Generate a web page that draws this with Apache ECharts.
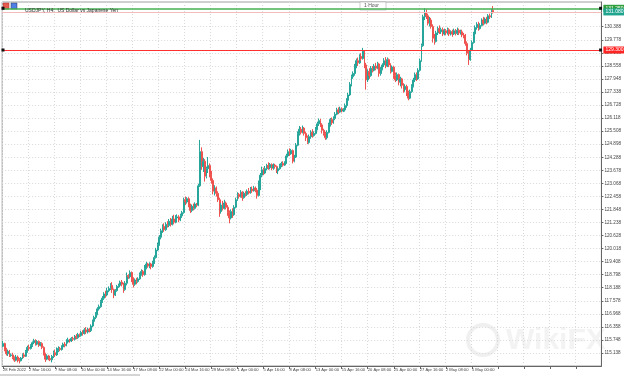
<!DOCTYPE html>
<html><head><meta charset="utf-8">
<script src="https://cdn.jsdelivr.net/npm/echarts@6/dist/echarts.min.js"></script>
<style>html,body{margin:0;padding:0;background:#fff}#c{width:624px;height:377px}</style>
</head><body><div id="c"></div>
<script>
const chartTitle = 'USDJPY, H4:  US Dollar vs Japanese Yen';
const xTickLabels = ['28 Feb 2022','2 Mar 16:00','7 Mar 08:00','10 Mar 00:00','14 Mar 16:00','17 Mar 08:00','22 Mar 00:00','24 Mar 16:00','29 Mar 08:00','1 Apr 00:00','5 Apr 16:00','8 Apr 08:00','13 Apr 00:00','15 Apr 16:00','20 Apr 08:00','25 Apr 00:00','27 Apr 16:00','2 May 08:00','5 May 00:00'];
const yTicks = [115.138,115.748,116.358,116.968,117.578,118.188,118.798,119.408,120.018,120.628,121.238,121.848,122.458,123.068,123.678,124.288,124.898,125.508,126.118,126.728,127.338,127.948,128.558,129.168,129.778,130.388];
const levelGreen = 131.25;
const levelBid = 131.08;
const levelRed = 129.30;
// H4 candles: [open, close, low, high]
const candles = [
[115.45,115.58,115.40,115.70],[115.58,115.30,115.22,115.62],[115.30,115.10,115.02,115.38],[115.10,115.22,115.00,115.30],[115.22,115.02,114.95,115.28],[115.02,115.05,114.96,115.12],
[115.05,114.92,114.85,115.15],[114.92,114.80,114.72,114.98],[114.80,114.95,114.75,115.05],[114.95,114.82,114.70,115.02],[114.82,114.78,114.65,114.90],[114.78,114.90,114.74,114.95],
[114.90,115.05,114.85,115.12],[115.05,114.98,114.90,115.15],[114.98,115.20,114.95,115.28],[115.20,115.40,115.15,115.48],[115.40,115.35,115.25,115.52],[115.35,115.48,115.30,115.55],
[115.48,115.62,115.42,115.68],[115.62,115.72,115.55,115.80],[115.72,115.55,115.48,115.78],[115.55,115.68,115.50,115.74],[115.68,115.50,115.42,115.72],[115.50,115.58,115.45,115.65],
[115.58,115.40,115.32,115.64],[115.40,115.10,115.02,115.45],[115.10,114.85,114.72,115.15],[114.85,115.00,114.80,115.08],[115.00,114.88,114.80,115.05],[114.88,114.82,114.76,114.95],
[114.82,114.98,114.70,115.05],[114.98,115.15,114.90,115.25],[115.15,115.05,114.95,115.30],[115.05,115.25,115.00,115.40],[115.25,115.35,115.18,115.45],[115.35,115.30,115.22,115.42],
[115.30,115.42,115.25,115.50],[115.42,115.55,115.35,115.62],[115.55,115.48,115.40,115.65],[115.48,115.65,115.45,115.78],[115.65,115.75,115.58,115.85],[115.75,115.70,115.62,115.80],
[115.70,115.82,115.65,115.88],[115.82,115.78,115.70,115.90],[115.78,115.92,115.72,115.98],[115.92,115.85,115.78,116.02],[115.85,116.00,115.80,116.08],[116.00,115.95,115.88,116.05],
[115.95,116.10,115.90,116.18],[116.10,116.05,115.95,116.20],[116.05,116.22,116.00,116.30],[116.22,116.12,116.02,116.35],[116.12,116.25,116.05,116.32],[116.25,116.18,116.10,116.30],
[116.18,116.40,116.12,116.48],[116.40,116.62,116.35,116.70],[116.62,116.80,116.55,116.88],[116.80,116.95,116.72,117.05],[116.95,117.20,116.90,117.28],[117.20,117.30,117.12,117.40],
[117.30,117.55,117.25,117.62],[117.55,117.70,117.48,117.80],[117.70,117.90,117.62,117.98],[117.90,117.85,117.72,118.05],[117.85,118.05,117.80,118.18],[118.05,118.15,117.98,118.25],
[118.15,118.30,118.08,118.40],[118.30,118.10,117.95,118.45],[118.10,117.85,117.70,118.15],[117.85,118.05,117.80,118.12],[118.05,118.25,118.00,118.32],[118.25,118.30,118.18,118.38],
[118.30,118.45,118.22,118.52],[118.45,118.35,118.25,118.55],[118.35,118.10,117.95,118.42],[118.10,118.40,118.05,118.50],[118.40,118.75,118.30,118.90],[118.75,118.70,118.60,118.82],
[118.70,118.90,118.62,119.00],[118.90,118.60,118.45,118.95],[118.60,118.35,118.20,118.68],[118.35,118.55,118.28,118.62],[118.55,118.48,118.35,118.65],[118.48,118.60,118.42,118.68],
[118.60,118.82,118.55,118.90],[118.82,118.95,118.75,119.05],[118.95,118.80,118.70,119.02],[118.80,119.10,118.75,119.25],[119.10,119.30,119.05,119.40],[119.30,119.20,119.12,119.35],
[119.20,119.30,119.10,119.38],[119.30,119.18,119.05,119.35],[119.18,119.35,119.12,119.45],[119.35,119.60,119.30,119.70],[119.60,119.95,119.55,120.05],[119.95,120.20,119.90,120.30],
[120.20,120.55,120.15,120.65],[120.55,120.85,120.45,120.95],[120.85,121.05,120.75,121.15],[121.05,120.90,120.80,121.20],[120.90,121.15,120.85,121.25],[121.15,121.10,121.00,121.30],
[121.10,121.30,121.02,121.40],[121.30,121.15,121.05,121.45],[121.15,121.40,121.10,121.55],[121.40,121.25,121.15,121.60],[121.25,121.45,121.20,121.58],[121.45,121.50,121.38,121.62],
[121.50,121.35,121.25,121.58],[121.35,121.55,121.30,121.65],[121.55,121.70,121.45,121.78],[121.70,122.30,121.65,122.40],[122.30,122.20,122.05,122.45],[122.20,122.35,122.12,122.42],
[122.35,122.05,121.95,122.42],[122.05,121.80,121.68,122.12],[121.80,122.00,121.72,122.08],[122.00,121.90,121.80,122.12],[121.90,122.10,121.85,122.18],[122.10,122.05,121.95,122.15],
[122.05,122.95,122.00,123.05],[122.95,124.55,122.90,125.10],[124.55,123.85,123.70,124.75],[123.85,124.10,123.60,124.25],[124.10,123.40,123.15,124.20],[123.40,123.75,123.30,123.85],
[123.75,123.90,123.55,124.30],[123.90,123.50,123.35,124.00],[123.50,123.20,123.05,123.65],[123.20,122.70,122.55,123.30],[122.70,122.85,122.50,122.98],[122.85,122.60,122.45,122.92],
[122.60,122.30,122.20,122.70],[122.30,121.75,121.50,122.40],[121.75,122.05,121.65,122.15],[122.05,121.90,121.80,122.25],[121.90,122.15,121.85,122.30],[122.15,121.95,121.85,122.22],
[121.95,121.70,121.55,122.05],[121.70,121.45,121.20,121.80],[121.45,121.75,121.38,121.85],[121.75,121.60,121.45,121.90],[121.60,121.95,121.55,122.05],[121.95,122.30,121.90,122.40],
[122.30,122.55,122.25,122.65],[122.55,122.45,122.35,122.62],[122.45,122.65,122.40,122.75],[122.65,122.40,122.25,122.70],[122.40,122.60,122.35,122.68],[122.60,122.55,122.45,122.70],
[122.55,122.70,122.48,122.78],[122.70,122.62,122.55,122.85],[122.62,122.80,122.58,122.90],[122.80,122.72,122.62,122.92],[122.72,122.85,122.68,122.95],[122.85,122.75,122.65,122.92],
[122.75,122.50,122.35,122.85],[122.50,122.80,122.45,123.20],[122.80,123.45,122.75,123.55],[123.45,123.70,123.35,123.85],[123.70,123.55,123.45,123.80],[123.55,123.75,123.50,123.88],
[123.75,123.90,123.68,123.98],[123.90,123.80,123.70,124.05],[123.80,123.95,123.72,124.02],[123.95,123.78,123.68,124.00],[123.78,123.92,123.70,124.00],[123.92,123.85,123.75,123.98],
[123.85,123.65,123.55,123.90],[123.65,123.75,123.50,123.82],[123.75,123.90,123.70,123.98],[123.90,124.00,123.82,124.08],[124.00,123.92,123.85,124.10],[123.92,124.02,123.88,124.10],
[124.02,124.35,123.98,124.45],[124.35,124.55,124.28,124.65],[124.55,124.45,124.35,124.70],[124.45,124.60,124.40,124.68],[124.60,124.10,124.00,124.65],[124.10,124.30,124.05,124.40],
[124.30,124.85,124.25,124.95],[124.85,125.40,124.80,125.50],[125.40,125.60,125.30,125.75],[125.60,125.45,125.35,125.70],[125.45,125.65,125.40,125.77],[125.65,125.40,125.30,125.70],
[125.40,125.20,125.05,125.48],[125.20,124.98,124.90,125.30],[124.98,125.25,124.92,125.35],[125.25,125.45,125.15,125.55],[125.45,125.30,125.20,125.60],[125.30,125.40,125.25,125.50],
[125.40,125.60,125.35,125.70],[125.60,125.85,125.55,125.95],[125.85,126.00,125.75,126.10],[126.00,125.80,125.70,126.08],[125.80,125.55,125.40,125.88],[125.55,125.40,125.30,125.62],
[125.40,125.20,125.10,125.48],[125.20,125.45,125.12,125.55],[125.45,125.80,125.40,125.90],[125.80,126.05,125.72,126.12],[126.05,125.90,125.80,126.15],[125.90,126.10,125.85,126.20],
[126.10,126.30,126.02,126.40],[126.30,126.50,126.25,126.60],[126.50,126.40,126.30,126.62],[126.40,126.55,126.35,126.65],[126.55,126.45,126.38,126.62],[126.45,126.50,126.40,126.58],
[126.50,126.70,126.42,126.80],[126.70,126.95,126.60,127.05],[126.95,127.20,126.88,127.30],[127.20,127.70,127.15,127.80],[127.70,128.05,127.60,128.15],[128.05,128.20,127.95,128.30],
[128.20,128.55,128.10,128.65],[128.55,128.80,128.45,128.90],[128.80,128.70,128.55,128.95],[128.70,129.00,128.65,129.10],[129.00,128.90,128.80,129.15],[128.90,129.25,128.85,129.40],
[129.25,128.60,128.45,129.30],[128.60,127.90,127.45,128.70],[127.90,128.30,127.80,128.40],[128.30,128.10,127.95,128.45],[128.10,128.45,128.05,128.55],[128.45,128.35,128.25,128.55],
[128.35,128.55,128.30,128.65],[128.55,128.45,128.35,128.70],[128.45,128.65,128.40,128.75],[128.65,128.20,128.05,128.70],[128.20,128.40,128.10,128.50],[128.40,128.60,128.35,128.68],
[128.60,128.80,128.50,128.92],[128.80,128.55,128.45,128.97],[128.55,128.85,128.50,128.95],[128.85,128.60,128.50,128.90],[128.60,128.30,128.20,128.68],[128.30,128.50,128.25,128.58],
[128.50,128.10,127.95,128.55],[128.10,127.90,127.80,128.25],[127.90,128.15,127.85,128.25],[128.15,127.80,127.65,128.20],[127.80,127.95,127.60,128.05],[127.95,127.65,127.50,128.00],
[127.65,127.45,127.30,127.75],[127.45,127.60,127.35,127.70],[127.60,127.30,127.15,127.68],[127.30,127.05,126.95,127.40],[127.05,127.35,127.00,127.45],[127.35,127.60,127.30,127.70],
[127.60,127.90,127.55,128.00],[127.90,128.15,127.80,128.25],[128.15,127.95,127.85,128.25],[127.95,128.35,127.90,128.45],[128.35,128.80,128.30,128.90],[128.80,129.50,128.75,129.60],
[129.50,130.85,129.45,130.95],[130.85,131.05,130.70,131.25],[131.05,130.90,130.75,131.20],[130.90,130.55,130.45,131.00],[130.55,130.70,130.40,130.85],[130.70,130.40,130.30,130.80],
[130.40,129.85,129.65,130.50],[129.85,129.70,129.55,130.05],[129.70,130.10,129.65,130.20],[130.10,130.30,130.00,130.40],[130.30,130.15,130.05,130.45],[130.15,130.25,130.05,130.35],
[130.25,130.05,129.95,130.35],[130.05,130.20,129.98,130.30],[130.20,130.10,130.00,130.28],[130.10,130.25,130.02,130.35],[130.25,130.05,129.95,130.32],[130.05,130.15,129.98,130.22],
[130.15,130.05,129.92,130.25],[130.05,130.20,130.00,130.30],[130.20,130.08,129.98,130.28],[130.08,130.22,130.00,130.35],[130.22,130.10,130.00,130.30],[130.10,130.15,130.02,130.25],
[130.15,130.00,129.90,130.25],[130.00,129.95,129.85,130.10],[129.95,129.60,129.50,130.05],[129.60,129.15,129.05,129.70],[129.15,128.85,128.60,129.25],[128.85,129.30,128.80,129.40],
[129.30,129.65,129.25,129.75],[129.65,130.05,129.60,130.15],[130.05,130.35,129.95,130.45],[130.35,130.50,130.25,130.60],[130.50,130.30,130.20,130.62],[130.30,130.45,130.25,130.55],
[130.45,130.70,130.40,130.78],[130.70,130.55,130.45,130.85],[130.55,130.75,130.50,130.82],[130.75,130.60,130.50,130.85],[130.60,130.90,130.55,130.98],[130.90,130.85,130.75,131.00],
[130.85,131.15,130.80,131.22],[131.15,131.08,131.00,131.35]
];
const slotCount = 368;
const labelEvery = 16;

const categories = [];
for (let i = 0; i < slotCount; i++) categories.push(String(i));

const chart = echarts.init(document.getElementById('c'), null, {renderer: 'canvas'});
const txt = '#444';
const fam = 'Liberation Sans Narrow, Liberation Sans, DejaVu Sans, sans-serif';
const lvlLabel = (v, bg) => ({
  show: true, position: 'end', distance: 2, formatter: v.toFixed(3),
  color: '#fff', backgroundColor: bg, fontSize: 5, fontFamily: fam,
  padding: [1, 2, 1, 2]
});
chart.setOption({
  animation: false,
  backgroundColor: '#fff',
  title: {text: chartTitle, left: 20, top: 3, textStyle: {fontSize: 5, fontWeight: 'normal', color: '#333', fontFamily: fam}},
  grid: {left: 2, right: 22, top: 2, bottom: 11, show: true, borderColor: '#a0a0a0', borderWidth: 1},
  xAxis: {
    type: 'category', data: categories, boundaryGap: true,
    axisLine: {show: true, lineStyle: {color: '#666', width: 1}},
    axisTick: {show: true, alignWithLabel: true, interval: labelEvery - 1, length: 3, lineStyle: {color: '#666'}},
    axisLabel: {
      interval: labelEvery - 1, showMinLabel: true, hideOverlap: false, align: 'left', margin: 2, fontSize: 4.1, color: txt, fontFamily: fam,
      formatter: (v, i) => { const k = i / labelEvery; return (Number.isInteger(k) && k < xTickLabels.length) ? xTickLabels[k] : ''; }
    },
    splitLine: {show: true, interval: labelEvery - 1, lineStyle: {color: '#d9d9d9', type: [1, 2], width: 1}}
  },
  yAxis: {
    type: 'value', position: 'right', min: 114.53, max: 131.544, scale: true,
    axisLine: {show: true, lineStyle: {color: '#666', width: 1}},
    axisTick: {show: true, length: 2, customValues: yTicks, lineStyle: {color: '#666'}},
    axisLabel: {customValues: yTicks, fontSize: 4.6, color: txt, fontFamily: fam, margin: 3, formatter: v => v.toFixed(3)},
    splitLine: {show: true, lineStyle: {color: '#d9d9d9', type: [1, 2], width: 1}}
  },
  series: [{
    type: 'candlestick',
    data: candles.map(c => [c[0], c[1], c[2], c[3]]),
    barWidth: 1.4,
    itemStyle: {color: '#26a69a', color0: '#ef5350', borderColor: '#26a69a', borderColor0: '#ef5350', borderWidth: 1},
    markLine: {
      silent: true, symbol: ['none', 'none'], animation: false,
      data: [
        {yAxis: levelGreen, lineStyle: {color: '#45b050', width: 1.5, type: 'solid'}, label: lvlLabel(levelGreen, '#2f9e3c')},
        {yAxis: levelBid, lineStyle: {color: '#f3bcbc', width: 1, type: 'solid'}, label: lvlLabel(levelBid, '#1fa48e')},
        {yAxis: levelRed, lineStyle: {color: '#ff3030', width: 1, type: 'solid'}, label: lvlLabel(levelRed, '#ff2424')}
      ]
    },
    markPoint: {
      silent: true, symbol: 'rect', symbolSize: 3, animation: false,
      itemStyle: {color: '#111'}, label: {show: false},
      data: [
        {coord: [0, levelGreen]}, {coord: [slotCount - 1, levelGreen]},
        {coord: [0, levelRed]}, {coord: [slotCount - 1, levelRed]}
      ]
    }
  }],
  graphic: [
    {type: 'rect', shape: {x: 3, y: 3, width: 6, height: 6}, style: {fill: '#e55b4d', stroke: '#a33', lineWidth: 0.5}},
    {type: 'rect', shape: {x: 11, y: 3, width: 6, height: 6}, style: {fill: '#4d7fe5', stroke: '#335', lineWidth: 0.5}},
    {type: 'rect', shape: {x: 360, y: 2, width: 26, height: 8}, style: {fill: '#fff', stroke: '#999', lineWidth: 0.5}},
    {type: 'text', x: 364, y: 3.5, style: {text: '1 Hour', fontSize: 5, fill: '#555', fontFamily: fam}},
    {type: 'circle', shape: {cx: 483, cy: 340, r: 15}, style: {fill: 'none', stroke: '#f0f0f0', lineWidth: 4}},
    {type: 'text', x: 506, y: 326, style: {text: 'WikiFX', fontSize: 30, fontWeight: 'bold', fill: '#f3f3f3', fontFamily: 'Liberation Sans, sans-serif'}},
    {type: 'line', shape: {x1: 0, y1: 375, x2: 140, y2: 375}, style: {stroke: '#aaa', lineWidth: 1}}
  ]
});
</script>
</body></html>
